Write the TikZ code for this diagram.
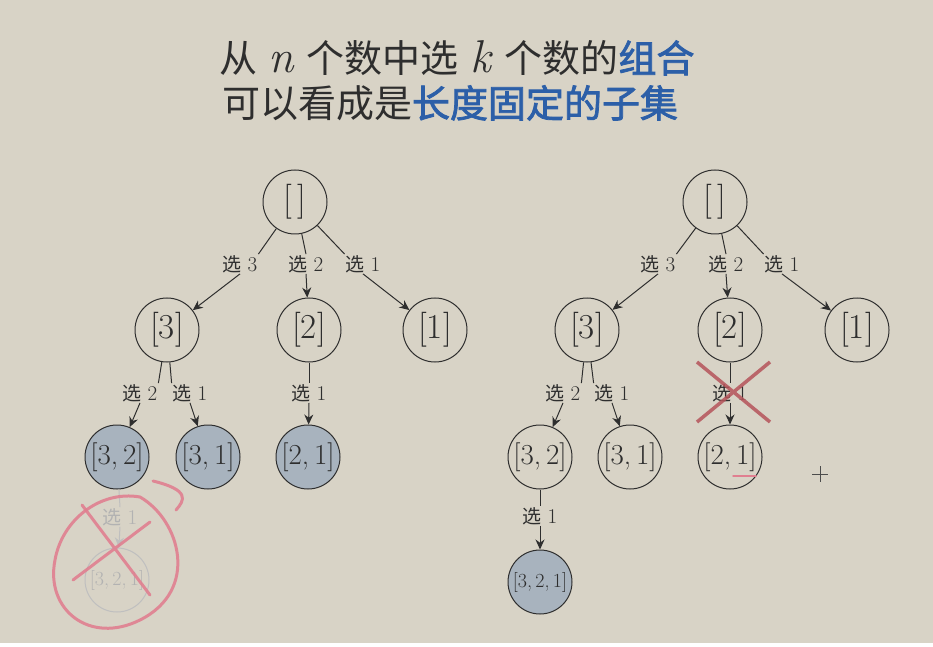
\documentclass[tikz,border=0pt]{standalone}
\usepackage{fontspec}
\newfontfamily\cjk{Noto Sans CJK SC}[AutoFakeBold=2]
\usetikzlibrary{arrows.meta}
\definecolor{bg}{HTML}{D8D3C6}
\definecolor{fillb}{HTML}{A8B3BE}
\definecolor{tblue}{HTML}{2C5FA8}
\definecolor{xred}{HTML}{B5545A}
\definecolor{pinkc}{HTML}{E07F90}
\definecolor{ink}{HTML}{2E2E2E}
\tikzset{
 st/.style={circle,draw=ink,text=ink,line width=1pt,minimum size=64pt,inner sep=0pt,font=\fontsize{35}{35}\selectfont},
 pr/.style={font=\fontsize{29}{29}\selectfont},
 tr/.style={font=\fontsize{20}{20}\selectfont},
 lf/.style={st,fill=fillb},
 lb/.style={inner sep=1pt,text=ink,font=\fontsize{19}{19}\selectfont},
 ln/.style={draw=ink,line width=1pt},
 ar/.style={ln,-{Stealth[length=10pt,width=9pt]}},
}
\newcommand{\xuan}[1]{{\cjk 选} {\fontsize{21}{21}\selectfont #1}}
\begin{document}
\begin{tikzpicture}[x=1pt,y=-1pt]
\fill[bg] (0,0) rectangle (933,643);
\node[text=ink,font=\fontsize{38}{38}\selectfont] (t1) at (457,58) {{\cjk 从} {\fontsize{46}{46}\selectfont\textit{n}} {\cjk 个数中选} {\fontsize{46}{46}\selectfont\textit{k}} {\cjk 个数的{\color{tblue}\bfseries 组合}}};
\node[text=ink,font=\fontsize{38}{38}\selectfont] (t2) at (450,103) {\cjk 可以看成是{\color{tblue}\bfseries 长度固定的子集}};
% left tree
\node[st] (a0) at (295,202) {[\,]};
\node[st] (a3) at (167,330) {[3]};
\node[st] (a2) at (309,330) {[2]};
\node[st] (a1) at (435,330) {[1]};
\node[lf,pr] (a32) at (117,457) {[3,\,2]};
\node[lf,pr] (a31) at (208,457) {[3,\,1]};
\node[lf,pr] (a21) at (308,457) {[2,\,1]};
\node[st,tr,draw=black!25,text=black!30] (a321) at (117,580) {[3,\,2,\,1]};
\node[lb] (la3) at (240,264) {\xuan{3}};
\node[lb] (la2) at (306,264) {\xuan{2}};
\node[lb] (la1) at (363,264) {\xuan{1}};
\node[lb] (lb2) at (140,393) {\xuan{2}};
\node[lb] (lb1) at (190,393) {\xuan{1}};
\node[lb] (lc1) at (309,393) {\xuan{1}};
\node[lb,text=black!30] (ld1) at (120,517) {\xuan{1}};
\draw[ln] (a0) -- (la3.north east); \draw[ar] (la3.south) -- (a3);
\draw[ln] (a0) -- (la2.north); \draw[ar] (la2.south) -- (a2);
\draw[ln] (a0) -- (la1.north west); \draw[ar] (la1.south) -- (a1);
\draw[ln] (a3) -- (lb2.north east); \draw[ar] (lb2.south) -- (a32);
\draw[ln] (a3) -- (lb1.north west); \draw[ar] (lb1.south) -- (a31);
\draw[ln] (a2) -- (lc1.north); \draw[ar] (lc1.south) -- (a21);
\draw[ln,draw=black!25] (a32) -- (ld1.north); \draw[ar,draw=black!25] (ld1.south) -- (a321);
% right tree
\node[st] (b0) at (715,202) {[\,]};
\node[st] (b3) at (587,330) {[3]};
\node[st] (b2) at (730,330) {[2]};
\node[st] (b1) at (857,330) {[1]};
\node[st,pr] (b32) at (540,457) {[3,\,2]};
\node[st,pr] (b31) at (630,457) {[3,\,1]};
\node[st,pr] (b21) at (730,457) {[2,\,1]};
\node[lf,tr] (b321) at (540,582) {[3,\,2,\,1]};
\node[lb] (ma3) at (658,264) {\xuan{3}};
\node[lb] (ma2) at (726,264) {\xuan{2}};
\node[lb] (ma1) at (782,264) {\xuan{1}};
\node[lb] (mb2) at (563,393) {\xuan{2}};
\node[lb] (mb1) at (612,393) {\xuan{1}};
\node[lb] (mc1) at (730,393) {\xuan{1}};
\node[lb] (md1) at (540,516) {\xuan{1}};
\draw[ln] (b0) -- (ma3.north east); \draw[ar] (ma3.south) -- (b3);
\draw[ln] (b0) -- (ma2.north); \draw[ar] (ma2.south) -- (b2);
\draw[ln] (b0) -- (ma1.north west); \draw[ar] (ma1.south) -- (b1);
\draw[ln] (b3) -- (mb2.north east); \draw[ar] (mb2.south) -- (b32);
\draw[ln] (b3) -- (mb1.north west); \draw[ar] (mb1.south) -- (b31);
\draw[ln] (b2) -- (mc1.north); \draw[ar] (mc1.south) -- (b21);
\draw[ln] (b32) -- (md1.north); \draw[ar] (md1.south) -- (b321);
% annotations
\draw[xred,opacity=0.85,line width=3.5pt] (697,362) -- (770,422) (770,362) -- (697,422);
\draw[pinkc,line width=1.5pt,line cap=round] (733,476) -- (756,476);
\draw[pinkc,line width=3pt,line cap=round,opacity=0.9]
  (153,481) .. controls (190,490) and (185,500) .. (176,510)
  (140,497) .. controls (180,520) and (200,590) .. (140,620)
  .. controls (90,645) and (45,610) .. (55,560)
  .. controls (62,520) and (100,490) .. (140,497);
\draw[pinkc,line width=3pt,line cap=round,opacity=0.9]
  (82,505) -- (150,595) (150,522) -- (73,580);
\draw[black!70,line width=1pt] (812,474) -- (828,474) (820,466) -- (820,482);
\end{tikzpicture}
\end{document}
